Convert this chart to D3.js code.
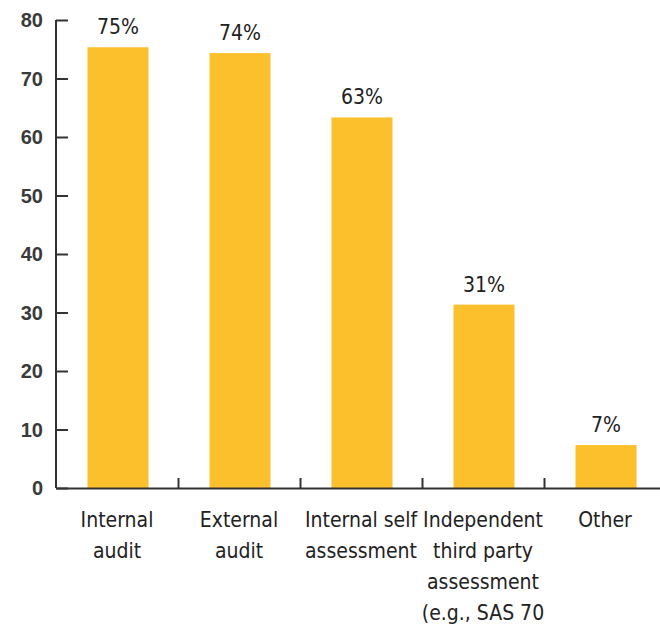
<!DOCTYPE html>
<html>
<head>
    <meta charset="utf-8">
    <title>Assessment methods</title>
    <script src="https://d3js.org/d3.v7.min.js"></script>
</head>
<style>
    body { margin: 0; background: #fff; }
    .axis path, .axis line { stroke: #333; stroke-width: 2px; }
    .ylab { font-family: "Liberation Sans", Arial, sans-serif; font-weight: bold; font-size: 20px; fill: #3a3a3a; }
    .cond { font-family: "Liberation Sans Narrow", "DejaVu Sans Condensed", "Roboto", sans-serif; font-stretch: condensed; fill: #222; }
</style>
<body>
<script>
    // data
    let categories = ["Internal audit", "External audit", "Internal self assessment", "Independent third party assessment (e.g., SAS 70", "Other"];
    let labelLines = [
        ["Internal", "audit"],
        ["External", "audit"],
        ["Internal self", "assessment"],
        ["Independent", "third party", "assessment", "(e.g., SAS 70"],
        ["Other"]
    ];
    let values = [75, 74, 63, 31, 7];
    let yTicks = [0, 10, 20, 30, 40, 50, 60, 70, 80];

    let svgwidth = 660, svgheight = 628;
    let svg = d3.select("body").append("svg")
        .attr("width", svgwidth)
        .attr("height", svgheight);

    let x = d3.scaleBand().domain(categories).range([56, 666])
        .paddingInner(0.5).paddingOuter(0.25);
    let y = d3.scaleLinear().domain([0, 80]).range([488, 20]);

    // bars
    svg.selectAll(".bar")
        .data(values)
        .enter().append("rect")
        .attr("x", (d, i) => x(categories[i]) + 1)
        .attr("width", x.bandwidth())
        .attr("y", d => y(d) - 2)
        .attr("height", d => y(0) - y(d) + 2)
        .attr("fill", "#fcc02c");

    // value labels
    svg.selectAll(".val")
        .data(values)
        .enter().append("text")
        .attr("class", "cond")
        .attr("font-size", 21)
        .attr("text-anchor", "middle")
        .attr("x", (d, i) => x(categories[i]) + 1 + x.bandwidth() / 2)
        .attr("y", d => y(d) - 15)
        .text(d => d + "%");

    // y axis (ticks pointing inward)
    let yAxis = svg.append("g")
        .attr("class", "axis")
        .attr("transform", "translate(56,0)")
        .call(d3.axisRight(y).tickValues(yTicks).tickSize(12).tickSizeOuter(0));
    yAxis.selectAll("text").remove();
    yAxis.select(".domain").attr("d", "M0," + y(80) + "V" + y(0));

    svg.selectAll(".ylab")
        .data(yTicks)
        .enter().append("text")
        .attr("class", "ylab")
        .attr("text-anchor", "end")
        .attr("x", 43)
        .attr("y", d => y(d) + 7)
        .text(d => d);

    // x axis with ticks between bands
    let bounds = categories.slice(1).map(c => x(c) - x.step() * x.paddingInner() / 2);
    let xb = d3.scaleLinear().domain([56, 660]).range([56, 660]);
    let xAxis = svg.append("g")
        .attr("class", "axis")
        .attr("transform", "translate(0," + y(0) + ")")
        .call(d3.axisTop(xb).tickValues(bounds).tickSize(10).tickSizeOuter(0));
    xAxis.selectAll("text").remove();

    // category labels
    let cat = svg.selectAll(".cat")
        .data(labelLines)
        .enter().append("text")
        .attr("class", "cond")
        .attr("font-size", 21)
        .attr("text-anchor", "middle")
        .attr("transform", (d, i) => "translate(" + (x(categories[i]) + x.bandwidth() / 2) + ",527)");
    cat.selectAll("tspan")
        .data(d => d)
        .enter().append("tspan")
        .attr("x", 0)
        .attr("y", (d, i) => i * 31)
        .text(d => d);
</script>
</body>
</html>
